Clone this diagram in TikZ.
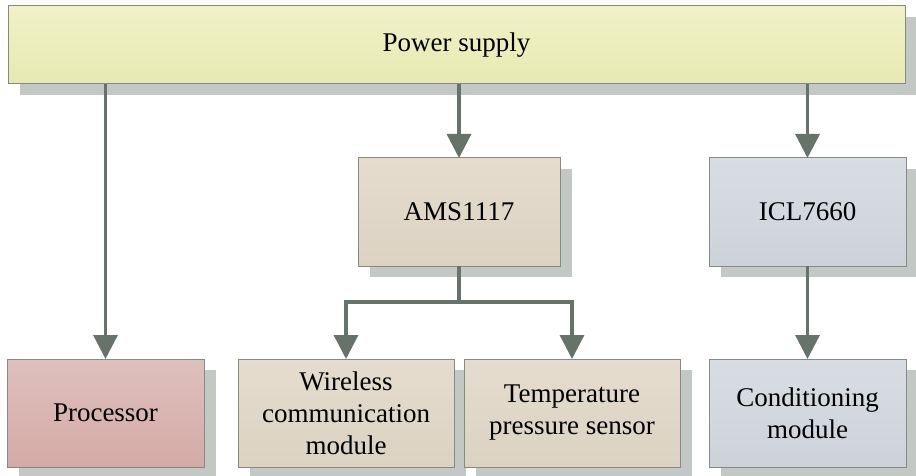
\documentclass[tikz,border=0pt]{standalone}
\usepackage{fontspec}
\setmainfont{Liberation Serif}
\usetikzlibrary{arrows.meta,backgrounds}
\definecolor{shadowc}{HTML}{C4C8C4}
\definecolor{borderc}{HTML}{858B80}
\definecolor{arrc}{HTML}{66726A}
\definecolor{psT}{HTML}{F0F2C6}
\definecolor{psB}{HTML}{E7E9B3}
\definecolor{amT}{HTML}{E5DCCF}
\definecolor{amB}{HTML}{DCD2C2}
\definecolor{prT}{HTML}{DEC0BD}
\definecolor{prB}{HTML}{D4AAA6}
\definecolor{icT}{HTML}{D9DDE3}
\definecolor{icB}{HTML}{CDD2DA}
\tikzset{
  blk/.style={draw=borderc, line width=1pt, inner sep=2pt, outer sep=0pt,
    align=center, font=\fontsize{27}{32}\selectfont, text=black},
  psbox/.style={blk, top color=psT, bottom color=psB},
  ambox/.style={blk, top color=amT, bottom color=amB},
  prbox/.style={blk, top color=prT, bottom color=prB},
  icbox/.style={blk, top color=icT, bottom color=icB},
  arr/.style={draw=arrc, line width=3.3pt, -{Triangle[width=24pt,length=24pt]}},
}
\newcommand{\dropshadow}[1]{\fill[shadowc] ([shift={(12,11)}]#1.north west) rectangle ([shift={(12,11)}]#1.south east);}
\begin{document}
\begin{tikzpicture}[x=1pt,y=-1pt]
\useasboundingbox (0,0) rectangle (916,476);
\node[psbox, minimum width=897pt, minimum height=78pt] (ps) at (456.5,45) {Power supply};
\node[ambox, minimum width=202pt, minimum height=108pt] (ams) at (459,212) {AMS1117};
\node[icbox, minimum width=197pt, minimum height=108pt] (icl) at (807.5,212) {ICL7660};
\node[prbox, minimum width=197pt, minimum height=108pt] (proc) at (105.5,413) {Processor};
\node[ambox, minimum width=216pt, minimum height=108pt] (wl) at (346,413) {Wireless\\communication\\module};
\node[ambox, minimum width=216pt, minimum height=108pt] (tp) at (572,413) {Temperature\\pressure sensor};
\node[icbox, minimum width=197pt, minimum height=108pt] (cond) at (807.5,413) {Conditioning\\module};
\begin{scope}[on background layer]
\dropshadow{ps}
\dropshadow{ams}
\dropshadow{icl}
\dropshadow{proc}
\dropshadow{wl}
\dropshadow{tp}
\dropshadow{cond}
\end{scope}
\coordinate (br) at (459,302);
\draw[arr] (ps.south -| proc.north) -- (proc.north);
\draw[arr] (ps.south -| ams.north) -- (ams.north);
\draw[arr] (ps.south -| icl.north) -- (icl.north);
\draw[arr] (icl.south) -- (cond.north);
\draw[arr] (ams.south) -- (ams.south |- br) -| (wl.north);
\draw[arr] (ams.south |- br) -| (tp.north);
\end{tikzpicture}
\end{document}
